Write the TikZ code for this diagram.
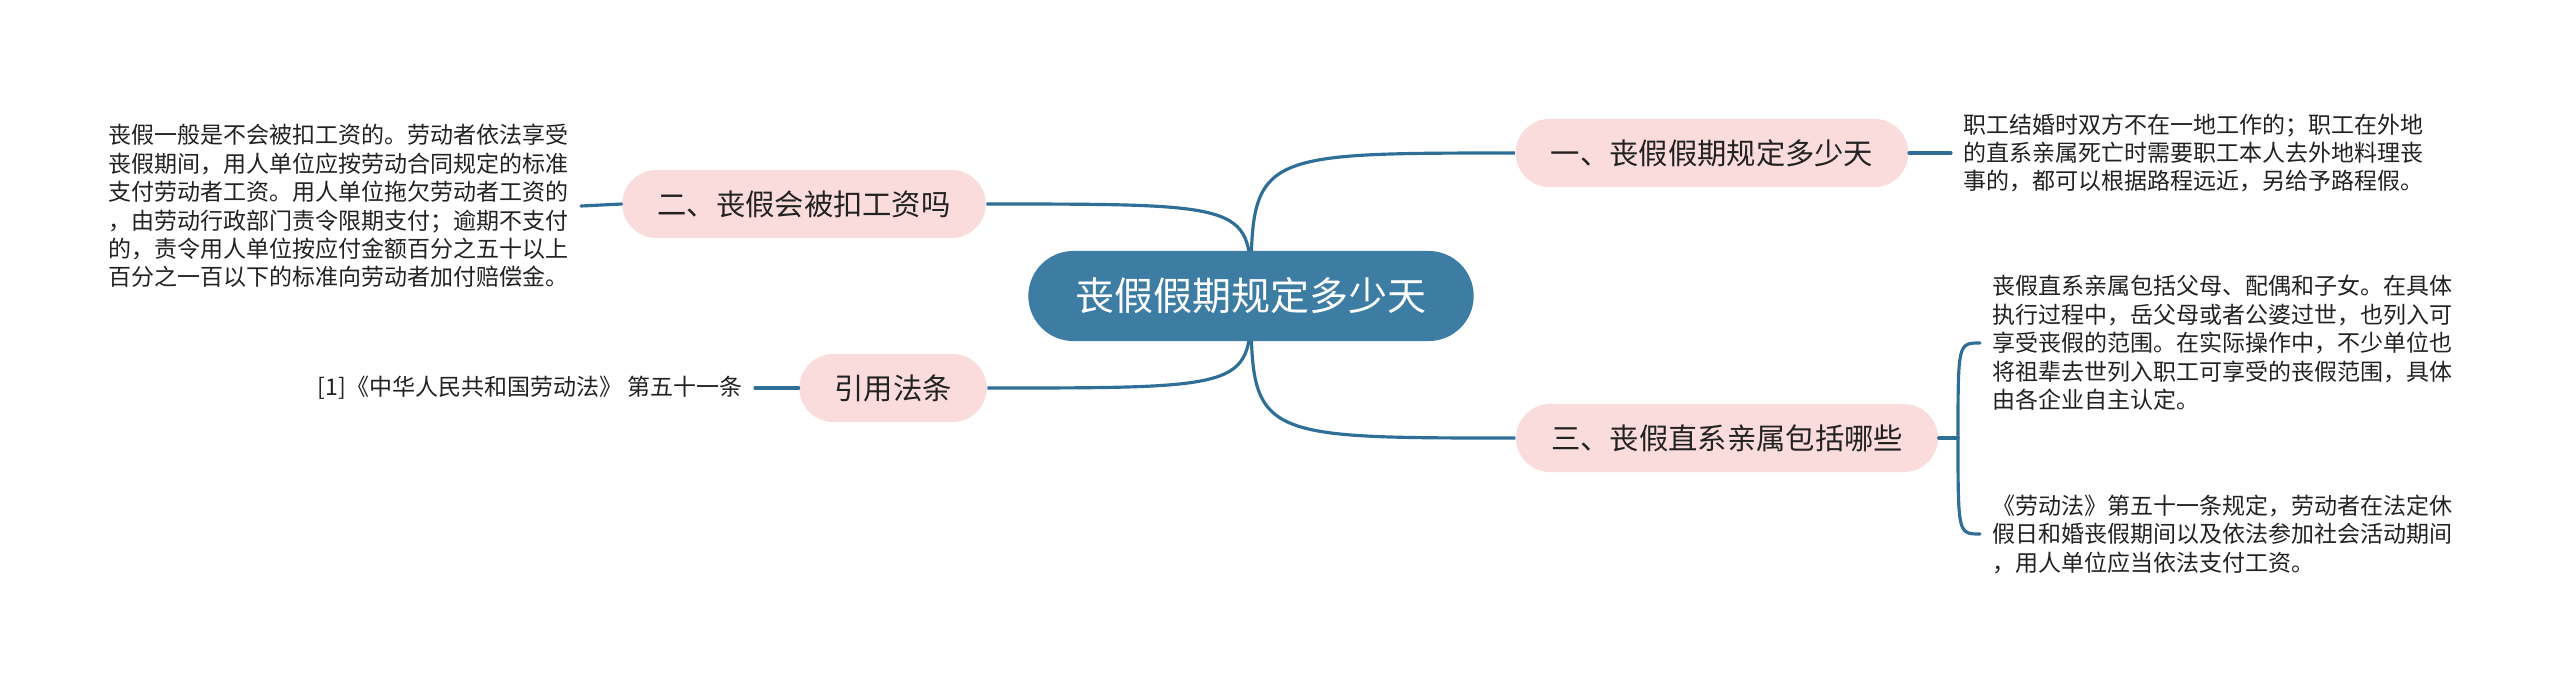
\documentclass[tikz,border=0pt]{standalone}
\usepackage{fontspec}
\setmainfont{Noto Sans CJK SC}
\usetikzlibrary{backgrounds}
\definecolor{rootblue}{HTML}{3D7DA4}
\definecolor{subpink}{HTML}{FADCDC}
\definecolor{linkblue}{HTML}{2F6E96}
\definecolor{txt}{HTML}{222222}

\begin{document}
\begin{tikzpicture}[
  x=0.01cm, y=-0.01cm,
  line cap=round, line join=round,
  root/.style={fill=rootblue, text=white, rounded corners=0.45cm,
               minimum height=0.9cm, inner xsep=0.47cm, inner ysep=0pt,
               font=\fontsize{11.1pt}{13pt}\selectfont},
  sub/.style={fill=subpink, text=txt, rounded corners=0.34cm,
              minimum height=0.68cm, inner xsep=0.35cm, inner ysep=0pt,
              font=\fontsize{8.34pt}{10pt}\selectfont},
  note/.style={text=txt, align=left, inner xsep=0.12cm, inner ysep=0pt,
               font=\fontsize{6.54pt}{8.1pt}\selectfont},
  ln/.style={draw=linkblue, line width=0.9pt},
]
\useasboundingbox (0,0) rectangle (2560,687);

\node[root] (root) at (1251, 296) {丧假假期规定多少天};
\node[sub] (b1) at (1712, 153) {一、丧假假期规定多少天};
\node[sub] (b2) at ( 804, 204) {二、丧假会被扣工资吗};
\node[sub] (b3) at (1727, 438) {三、丧假直系亲属包括哪些};
\node[sub] (b4) at ( 893, 388) {引用法条};

\node[note, anchor=west] (n1) at (1951, 153) {职工结婚时双方不在一地工作的；职工在外地\\
  的直系亲属死亡时需要职工本人去外地料理丧\\
  事的，都可以根据路程远近，另给予路程假。};
\node[note, anchor=east] (n2) at (581, 206) {丧假一般是不会被扣工资的。劳动者依法享受\\
  丧假期间，用人单位应按劳动合同规定的标准\\
  支付劳动者工资。用人单位拖欠劳动者工资的\\
  ，由劳动行政部门责令限期支付；逾期不支付\\
  的，责令用人单位按应付金额百分之五十以上\\
  百分之一百以下的标准向劳动者加付赔偿金。};
\node[note, anchor=west] (n3a) at (1980, 343) {丧假直系亲属包括父母、配偶和子女。在具体\\
  执行过程中，岳父母或者公婆过世，也列入可\\
  享受丧假的范围。在实际操作中，不少单位也\\
  将祖辈去世列入职工可享受的丧假范围，具体\\
  由各企业自主认定。};
\node[note, anchor=west] (n3b) at (1980, 534) {《劳动法》第五十一条规定，劳动者在法定休\\
  假日和婚丧假期间以及依法参加社会活动期间\\
  ，用人单位应当依法支付工资。};
\node[note, anchor=east] (n4) at (755, 388) {[1]《中华人民共和国劳动法》 第五十一条};
\coordinate (hub3) at (1958, 438);

\begin{scope}[on background layer]
  \fill[white] (0,0) rectangle (2560,687);
  \draw[ln] (root.center) .. controls (root.center |- b1.west) .. (b1.west);
  \draw[ln] (root.center) .. controls (root.center |- b2.east) .. (b2.east);
  \draw[ln] (root.center) .. controls (root.center |- b3.west) .. (b3.west);
  \draw[ln] (root.center) .. controls (root.center |- b4.east) .. (b4.east);
\end{scope}

\draw[ln] (b1.east) -- (n1.west);
\draw[ln] (b2.west) -- (n2.east);
\draw[ln] (b4.west) -- (n4.east);
\draw[ln] (b3.east) -- (hub3);
\draw[ln] (hub3) .. controls (hub3 |- n3a.west) .. (n3a.west);
\draw[ln] (hub3) .. controls (hub3 |- n3b.west) .. (n3b.west);
\end{tikzpicture}
\end{document}
